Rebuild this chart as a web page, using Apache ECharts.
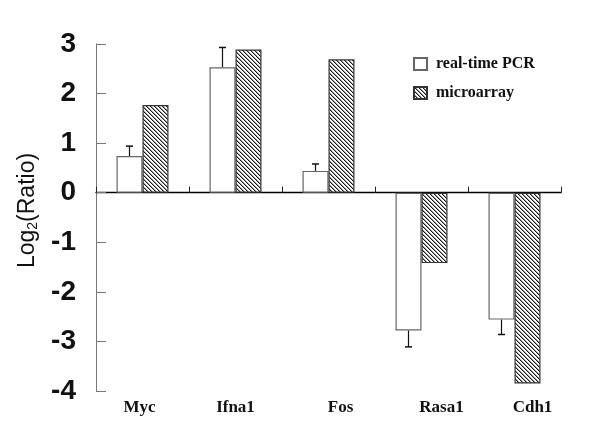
<!DOCTYPE html>
<html><head><meta charset="utf-8">
<script src="https://cdn.jsdelivr.net/npm/echarts@6/dist/echarts.min.js"></script>
<style>html,body{margin:0;padding:0;background:#fff}#c{width:600px;height:447px}</style>
</head><body><div id="c"></div>
<script>
// ---- data ----
var categories = ['Myc', 'Ifna1', 'Fos', 'Rasa1', 'Cdh1'];
var pcrValues = [0.74, 2.53, 0.44, -2.78, -2.56];
var pcrErrors = [0.20, 0.40, 0.14, 0.33, 0.30];
var microarrayValues = [1.77, 2.89, 2.69, -1.42, -3.85];
var seriesNames = ['real-time PCR', 'microarray'];
var yTicks = [-4, -3, -2, -1, 0, 1, 2, 3];

// ---- style ----
var labelShift = [-3, 0, 12, 20, 18]; // horizontal shift of category labels (px)
var BAR_W = 26;

function makeHatch() {
  var c = document.createElement('canvas');
  c.width = 4; c.height = 4;
  var ctx = c.getContext('2d');
  ctx.fillStyle = '#ffffff'; ctx.fillRect(0, 0, 4, 4);
  for (var i = 0; i < 4; i++) {
    ctx.fillStyle = '#1a1a1a'; ctx.fillRect(i, i, 1, 1);
    ctx.fillStyle = '#9a9a9a'; ctx.fillRect((i + 1) % 4, i, 1, 1);
  }
  return c;
}
var hatch = { image: makeHatch(), repeat: 'repeat' };

var rich = {};
labelShift.forEach(function (s, i) {
  rich['l' + i] = {
    fontFamily: 'Liberation Serif', fontWeight: 'bold', fontSize: 17, color: '#111',
    padding: s >= 0 ? [0, 0, 0, 2 * s] : [0, -2 * s, 0, 0]
  };
});

var chart = echarts.init(document.getElementById('c'), null, { renderer: 'canvas' });
chart.setOption({
  animation: false,
  backgroundColor: '#fff',
  grid: { left: 96, right: 39, top: 44, bottom: 56, containLabel: false },
  legend: {
    orient: 'vertical', left: 408, top: 51, itemWidth: 13, itemHeight: 12, itemGap: 13,
    icon: 'rect',
    textStyle: { fontFamily: 'Liberation Serif', fontWeight: 'bold', fontSize: 16, color: '#111', padding: [0, 0, 0, 4] },
    data: seriesNames
  },
  xAxis: [{
    type: 'category', data: categories, position: 'bottom',
    axisLine: { onZero: true, lineStyle: { color: '#000', width: 1.3 } },
    axisTick: { show: true, inside: true, length: 6, lineStyle: { color: '#222' } },
    axisLabel: { show: false }
  }, {
    type: 'category', data: categories, position: 'bottom',
    axisLine: { show: false, onZero: false }, axisTick: { show: false },
    axisLabel: {
      margin: 8,
      formatter: function (v, i) { return '{l' + i + '|' + v + '}'; },
      rich: rich
    }
  }],
  yAxis: {
    type: 'value', min: yTicks[0], max: yTicks[yTicks.length - 1], interval: 1,
    axisLine: { show: true, lineStyle: { color: '#777', width: 1 } },
    axisTick: { show: true, inside: true, length: 10, lineStyle: { color: '#777' } },
    splitLine: { show: false },
    axisLabel: { fontFamily: 'Liberation Sans', fontWeight: 'bold', fontSize: 28, color: '#111', margin: 20 },
    name: '{a|Log}{b|2}{a|(Ratio)}', nameLocation: 'middle', nameGap: 55, nameRotate: 90,
    nameTextStyle: {
      padding: [0, 0, 0, 14],
      rich: {
        a: { fontFamily: 'Liberation Sans', fontSize: 23, color: '#111' },
        b: { fontFamily: 'Liberation Sans', fontSize: 14, color: '#111', padding: [11, 0, 0, 0] }
      }
    }
  },
  series: [{
    name: seriesNames[0], type: 'bar', data: pcrValues, barWidth: BAR_W, barGap: '0%',
    itemStyle: { color: '#fff', borderColor: '#666', borderWidth: 1.2 }
  }, {
    name: seriesNames[1], type: 'bar', data: microarrayValues, barWidth: BAR_W, barGap: '0%',
    itemStyle: { color: hatch, borderColor: '#333', borderWidth: 1.2 }
  }, {
    name: 'err', type: 'custom',
    data: pcrValues.map(function (v, i) { return [i, v, pcrErrors[i]]; }),
    renderItem: function (params, api) {
      var i = api.value(0), v = api.value(1), e = api.value(2);
      var end = v >= 0 ? v + e : v - e;
      var p0 = api.coord([i, v]), p1 = api.coord([i, end]);
      var x = p0[0] - BAR_W / 2;
      return {
        type: 'group', children: [
          { type: 'line', shape: { x1: x, y1: p0[1], x2: x, y2: p1[1] }, style: { stroke: '#111', lineWidth: 1.2 } },
          { type: 'line', shape: { x1: x - 3.5, y1: p1[1], x2: x + 3.5, y2: p1[1] }, style: { stroke: '#111', lineWidth: 1.5 } }
        ]
      };
    },
    z: 5
  }]
});
</script></body></html>
